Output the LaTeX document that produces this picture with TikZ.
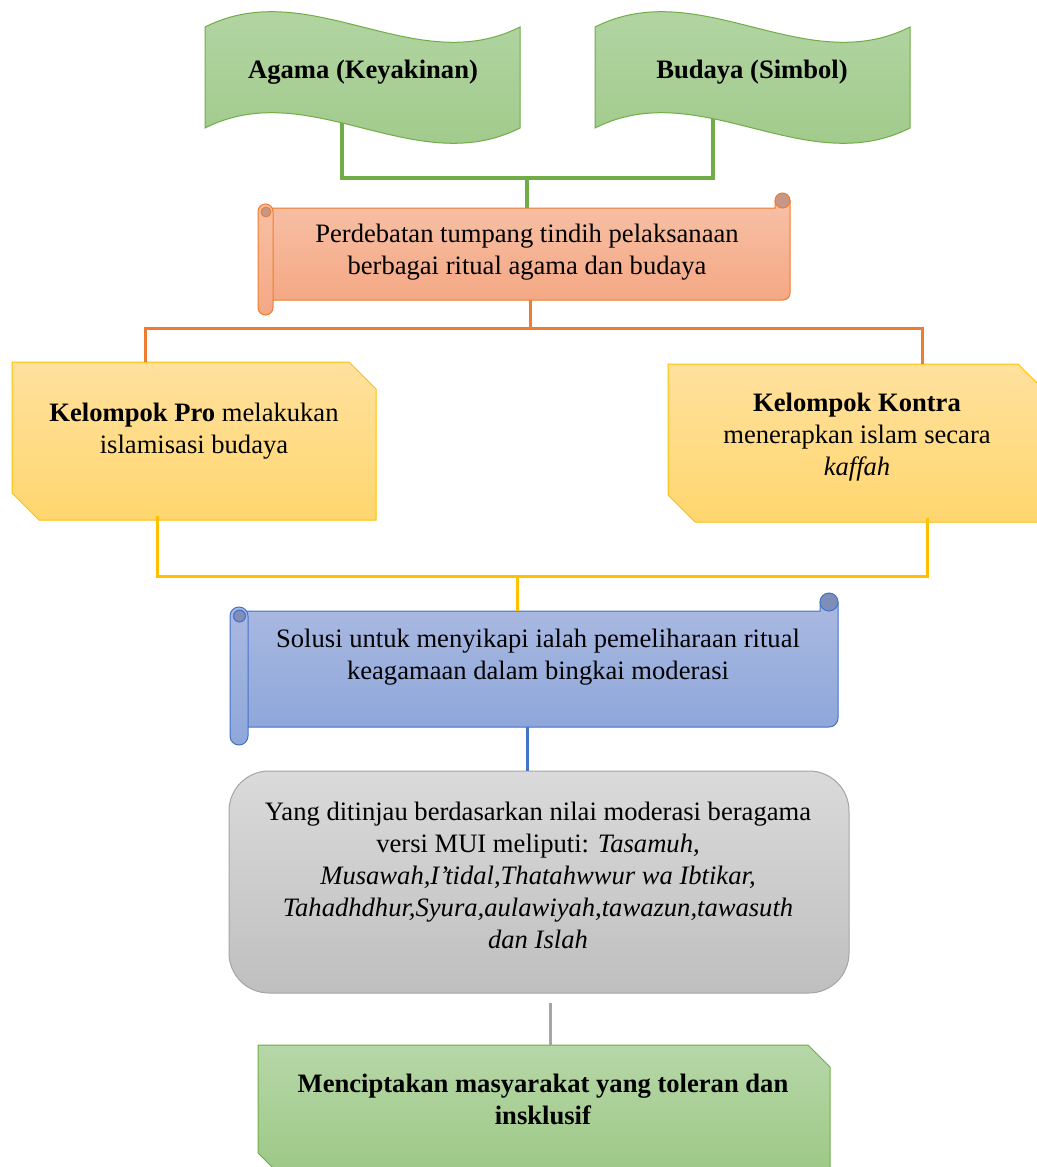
\documentclass[tikz,border=0pt]{standalone}
\usepackage{fontspec}
\setmainfont{Liberation Serif}
\definecolor{cgreen}{RGB}{112,173,71}
\definecolor{corange}{RGB}{237,125,49}
\definecolor{cgold}{RGB}{255,192,0}
\definecolor{cblue}{RGB}{68,114,196}
\definecolor{cgrey}{RGB}{165,165,165}
\definecolor{gtop}{RGB}{182,215,168}
\definecolor{gbot}{RGB}{157,200,134}
\definecolor{otop}{RGB}{247,192,165}
\definecolor{obot}{RGB}{244,168,132}
\definecolor{ocurl}{RGB}{198,150,135}
\definecolor{ytop}{RGB}{255,225,158}
\definecolor{ybot}{RGB}{255,214,110}
\definecolor{btop}{RGB}{170,185,225}
\definecolor{bbot}{RGB}{142,167,218}
\definecolor{bcurl}{RGB}{125,142,185}
\definecolor{rtop}{RGB}{218,218,218}
\definecolor{rbot}{RGB}{191,191,191}
\begin{document}
\begin{tikzpicture}[x=0.5pt,y=-0.5pt,
  txt/.style={align=center,inner sep=0pt,font=\fontsize{13.3}{16}\selectfont},
  greenfill/.style={top color=gtop,bottom color=gbot,draw=cgreen,line width=0.5pt},
  orangefill/.style={top color=otop,bottom color=obot,draw=corange,line width=0.5pt},
  yellowfill/.style={top color=ytop,bottom color=ybot,draw=cgold,line width=0.5pt},
  bluefill/.style={top color=btop,bottom color=bbot,draw=cblue,line width=0.5pt},
  greyfill/.style={top color=rtop,bottom color=rbot,draw=cgrey,line width=0.5pt},
  link/.style={line width=1.5pt}]
\path[use as bounding box,fill=white] (0,0) rectangle (1037,1167);
\clip (0,0) rectangle (1037,1167);

% wave banners
\path[greenfill] (205,27) .. controls (310,-26) and (415,80) .. (520,27) -- (520,128) .. controls (415,181) and (310,75) .. (205,128) -- cycle;
\path[greenfill] (595,27) .. controls (700,-26) and (805,80) .. (910,27) -- (910,128) .. controls (805,181) and (700,75) .. (595,128) -- cycle;

% orange scroll
\path[orangefill] (265,208) -- (775,208) -- (775,200.5) -- (790,200.5) -- (790,293) .. controls (790,297) and (787,300) .. (783,300) -- (265,300) -- cycle;
\path[fill=ocurl,draw=corange,line width=0.5pt] (782.5,200.5) circle[radius=7.5];
\path[orangefill,rounded corners=3.75pt] (258,204) rectangle (273,315);
\path[fill=ocurl,draw=corange,line width=0.5pt] (266,212) circle[radius=5];

% yellow boxes
\path[yellowfill] (12,362) -- (349,362) -- (376,389) -- (376,520) -- (39,520) -- (12,493) -- cycle;
\path[yellowfill] (668,364) -- (1018,364) -- (1045,391) -- (1045,522) -- (695,522) -- (668,495) -- cycle;

% blue scroll
\path[bluefill] (239,611) -- (820,611) -- (820,602) -- (838,602) -- (838,718) .. controls (838,723) and (834,727) .. (829,727) -- (239,727) -- cycle;
\path[fill=bcurl,draw=cblue,line width=0.5pt] (829,602) circle[radius=9];
\path[bluefill,rounded corners=4.5pt] (230,607) rectangle (248,745);
\path[fill=bcurl,draw=cblue,line width=0.5pt] (239.5,616) circle[radius=6];

% grey rounded box
\path[greyfill,rounded corners=20pt] (229,771) rectangle (849,993);

% bottom green box
\path[greenfill] (258,1045) -- (808,1045) -- (830,1067) -- (830,1175) -- (280,1175) -- (258,1153) -- cycle;

% texts
\node[txt] (tA) at (363,72) {\textbf{Agama (Keyakinan)}};
\node[txt] (tB) at (752,72) {\textbf{Budaya (Simbol)}};
\node[txt] (tOr) at (527,252) {Perdebatan tumpang tindih pelaksanaan\\berbagai ritual agama dan budaya};
\node[txt] (tPro) at (194,431) {\textbf{Kelompok Pro} melakukan\\islamisasi budaya};
\node[txt] (tKon) at (857,437) {\textbf{Kelompok Kontra}\\menerapkan islam secara\\\textit{kaffah}};
\node[txt] (tBl) at (538,657) {Solusi untuk menyikapi ialah pemeliharaan ritual\\keagamaan dalam bingkai moderasi};
\node[txt] (tGr) at (538,875) {Yang ditinjau berdasarkan nilai moderasi beragama\\versi MUI meliputi: \textit{Tasamuh,}\\\textit{Musawah,I’tidal,Thatahwwur wa Ibtikar,}\\\textit{Tahadhdhur,Syura,aulawiyah,tawazun,tawasuth}\\\textit{dan Islah}};
\node[txt] (tEnd) at (543,1099) {\textbf{Menciptakan masyarakat yang toleran dan}\\\textbf{insklusif}};

% connector points
\coordinate (gA) at (342,123);
\coordinate (gB) at (713,119);
\coordinate (gJ) at (527,178);
\coordinate (orTop) at (527,208);
\coordinate (orBot) at (530,300);
\coordinate (oJ) at (530,328);
\coordinate (proTop) at (145,362);
\coordinate (konTop) at (922,364);
\coordinate (proBot) at (157,516);
\coordinate (konBot) at (927,518);
\coordinate (yJ) at (517,576);
\coordinate (blTop) at (517,611);
\coordinate (blBot) at (527,727);
\coordinate (grTop) at (527,771);
\coordinate (grGap) at (550,1003);
\coordinate (endTop) at (550,1045);

% connectors
\draw[link,draw=cgreen,line width=1.7pt] (gA) |- (gJ) -| (gB);
\draw[link,draw=cgreen,line width=1.7pt] (gJ) -- (orTop);
\draw[link,draw=corange] (orBot) -- (oJ);
\draw[link,draw=corange] (proTop) |- (oJ) -| (konTop);
\draw[link,draw=cgold] (proBot) |- (yJ) -| (konBot);
\draw[link,draw=cgold] (yJ) -- (blTop);
\draw[link,draw=cblue] (blBot) -- (grTop);
\draw[link,draw=cgrey] (grGap) -- (endTop);
\end{tikzpicture}
\end{document}
